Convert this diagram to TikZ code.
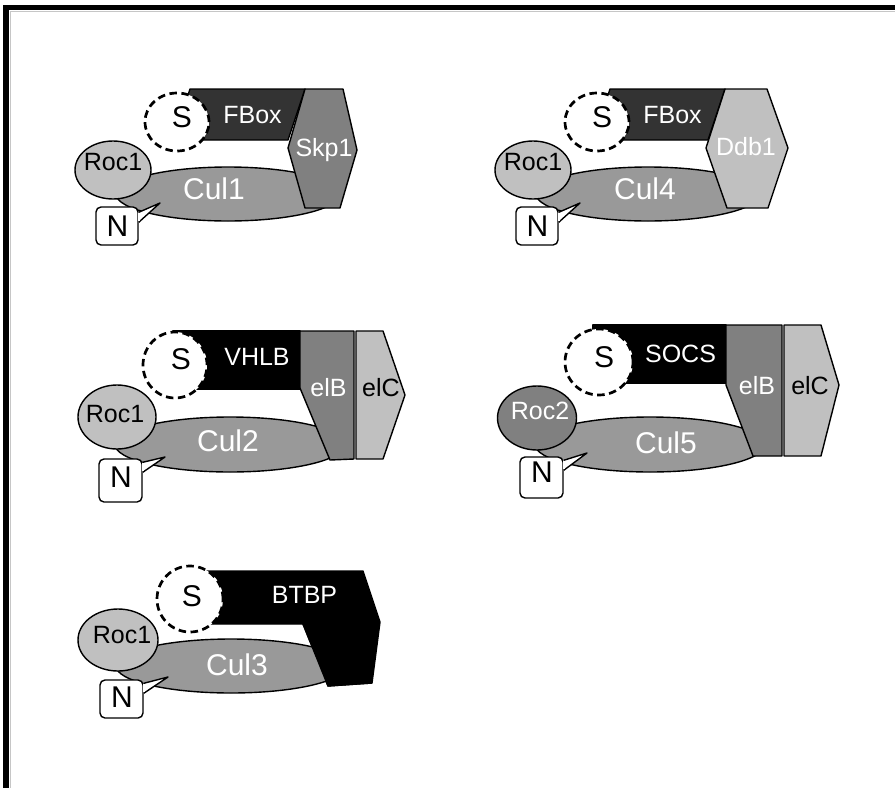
\documentclass[tikz,border=0pt]{standalone}
\usepackage{fontspec}
\setmainfont{Liberation Sans}
\usetikzlibrary{shapes.geometric}
\definecolor{gDark}{HTML}{333333}
\definecolor{gMid}{HTML}{808080}
\definecolor{gCul}{HTML}{999999}
\definecolor{gLight}{HTML}{C0C0C0}
\begin{document}
\begin{tikzpicture}[x=1pt,y=-1pt,
  big/.style={font=\fontsize{30}{32}\selectfont},
  med/.style={font=\fontsize{25}{27}\selectfont},
  txt/.style={inner sep=0pt, text height=0.716em, text depth=0pt},
  wtxt/.style={txt, text=white},
  outl/.style={draw=black, line width=1.4pt, line join=round},
  sub/.style={ellipse, draw=black, line width=2.7pt, dash pattern=on 7.5pt off 4.5pt, fill=white, inner sep=0pt},
  roc/.style={ellipse, outl, fill=gLight, inner sep=0pt},
  cul/.style={ellipse, outl, fill=gCul, inner sep=0pt},
  nbox/.style={rectangle, rounded corners=5pt, outl, fill=white, inner sep=0pt},
  ptr/.style={outl, fill=white},
  cover/.style={draw=white, line width=2.2pt}
]
\useasboundingbox (0,0) rectangle (895,788);
% frame
\draw[gray!45, line width=1pt] (10,11) -- (895,11);
\draw[gray!45, line width=1pt] (10,11) -- (10,788);
\draw[black, line width=5pt] (3,7.5) -- (895,7.5);
\draw[black, line width=6pt] (6,5) -- (6,788);

% ---------- complex 1 : Cul1 ----------
\draw[outl, fill=gDark] (190,89) -- (305,89) -- (288,140) -- (173,140) -- cycle;
\node[sub, minimum width=64pt, minimum height=58pt] (s1) at (177,122) {};
\node[cul, minimum width=224pt, minimum height=54pt] (cul1) at (228,194) {};
\draw[outl, fill=gMid] (305,89) -- (343,89) -- (357,150) -- (340,208) -- (305,208) -- (288,148) -- cycle;
\node[roc, minimum width=76pt, minimum height=58pt] (roc1a) at (113,170) {};
\node[nbox, minimum width=42pt, minimum height=38pt] (n1) at (117,226) {};
\coordinate (t1) at (160,203);
\filldraw[ptr] ([yshift=-6pt]n1.north east) -- (t1) -- ([yshift=-16pt]n1.north east);
\draw[cover] ([yshift=-7pt]n1.north east) -- ([yshift=-15pt]n1.north east);
\node[txt, big] (s1t) at (182,124) {S};
\node[wtxt, med] (fbox1) at (252.5,119.5) {FBox};
\node[wtxt, med] (skp1) at (324,152.5) {Skp1};
\node[txt, med] (roc1at) at (113,166.5) {Roc1};
\node[wtxt, big] (cul1t) at (214,196) {Cul1};
\node[txt, big] (n1t) at (117.5,232.5) {N};

% ---------- complex 2 : Cul4 ----------
\draw[outl, fill=gDark] (610,89) -- (725,89) -- (708,140) -- (593,140) -- cycle;
\node[sub, minimum width=64pt, minimum height=58pt] (s2) at (597,122) {};
\node[cul, minimum width=224pt, minimum height=54pt] (cul4) at (648,194) {};
\draw[outl, fill=gLight] (725,89) -- (767,89) -- (788,148) -- (768,208) -- (727,208) -- (706,148) -- cycle;
\node[roc, minimum width=76pt, minimum height=58pt] (roc1b) at (533,170) {};
\node[nbox, minimum width=42pt, minimum height=38pt] (n2) at (537,226) {};
\coordinate (t2) at (580,203);
\filldraw[ptr] ([yshift=-6pt]n2.north east) -- (t2) -- ([yshift=-16pt]n2.north east);
\draw[cover] ([yshift=-7pt]n2.north east) -- ([yshift=-15pt]n2.north east);
\node[txt, big] (s2t) at (602,124) {S};
\node[wtxt, med] (fbox2) at (672.5,119.5) {FBox};
\node[wtxt, med] (ddb1) at (746,151.5) {Ddb1};
\node[txt, med] (roc1bt) at (533,166.5) {Roc1};
\node[wtxt, big] (cul4t) at (645,196) {Cul4};
\node[txt, big] (n2t) at (537.5,232.5) {N};

% ---------- complex 3 : Cul2 ----------
\draw[outl, fill=black] (173,331) -- (300,331) -- (300,389) -- (173,389) -- cycle;
\node[sub, minimum width=64pt, minimum height=66pt] (s3) at (175,365) {};
\node[cul, minimum width=230pt, minimum height=55pt] (cul2) at (230,444.5) {};
\draw[outl, fill=gMid] (300,331) -- (354,331) -- (354,459) -- (330,460) -- (300,388) -- cycle;
\draw[outl, fill=gLight] (356,331) -- (383,331) -- (405,395) -- (383,459) -- (356,459) -- cycle;
\node[roc, minimum width=78pt, minimum height=64pt] (roc1c) at (117,417) {};
\node[nbox, minimum width=43pt, minimum height=43pt] (n3) at (120.5,480.5) {};
\coordinate (t3) at (165,457);
\filldraw[ptr] ([yshift=-4pt]n3.north east) -- (t3) -- ([yshift=-14pt]n3.north east);
\draw[cover] ([yshift=-5pt]n3.north east) -- ([yshift=-13pt]n3.north east);
\node[txt, big] (s3t) at (181,366) {S};
\node[wtxt, med] (vhlb) at (257,361.5) {VHLB};
\node[wtxt, med] (elb3) at (328.5,393) {elB};
\node[txt, med] (elc3) at (381,393) {elC};
\node[txt, med] (roc1ct) at (115,419) {Roc1};
\node[wtxt, big] (cul2t) at (228,448) {Cul2};
\node[txt, big] (n3t) at (121,484) {N};

% ---------- complex 4 : Cul5 ----------
\draw[outl, fill=black] (593,325) -- (726,325) -- (726,383) -- (593,383) -- cycle;
\node[sub, minimum width=68pt, minimum height=66pt] (s4) at (599,362) {};
\node[cul, minimum width=230pt, minimum height=55pt] (cul5) at (650,444.5) {};
\draw[outl, fill=gMid] (726,325) -- (782,325) -- (782,456) -- (753,456) -- (726,385) -- cycle;
\draw[outl, fill=gLight] (784,325) -- (821,325) -- (839,385) -- (821,456) -- (784,456) -- cycle;
\node[roc, fill=gMid, minimum width=79pt, minimum height=64pt] (roc2) at (537,418) {};
\node[nbox, minimum width=43pt, minimum height=41pt] (n4) at (541.5,477.5) {};
\coordinate (t4) at (587,453);
\filldraw[ptr] ([yshift=-4pt]n4.north east) -- (t4) -- ([yshift=-14pt]n4.north east);
\draw[cover] ([yshift=-5pt]n4.north east) -- ([yshift=-13pt]n4.north east);
\node[txt, big] (s4t) at (604,364) {S};
\node[wtxt, med] (socs) at (680.5,359) {SOCS};
\node[wtxt, med] (elb4) at (757,391) {elB};
\node[txt, med] (elc4) at (810,391) {elC};
\node[wtxt, med] (roc2t) at (540,416) {Roc2};
\node[wtxt, big] (cul5t) at (666,450) {Cul5};
\node[txt, big] (n4t) at (542,479) {N};

% ---------- complex 5 : Cul3 ----------
\draw[outl, fill=black] (200,571) -- (363,571) -- (380,622) -- (372,683) -- (328,686) -- (303,624) -- (200,624) -- cycle;
\node[sub, minimum width=66pt, minimum height=66pt] (s5) at (190,599) {};
\node[cul, minimum width=230pt, minimum height=54pt] (cul3) at (231,666) {};
\fill[black] (328,686) -- (303,624) -- (372,624) -- (372,683) -- cycle;
\draw[outl] (303,624) -- (328,686) -- (372,683);
\node[roc, minimum width=80pt, minimum height=62pt] (roc1d) at (118,640) {};
\node[nbox, minimum width=43pt, minimum height=38pt] (n5) at (121.5,699) {};
\coordinate (t5) at (168,677);
\filldraw[ptr] ([yshift=-4pt]n5.north east) -- (t5) -- ([yshift=-14pt]n5.north east);
\draw[cover] ([yshift=-5pt]n5.north east) -- ([yshift=-13pt]n5.north east);
\node[txt, big] (s5t) at (192,602.5) {S};
\node[wtxt, med] (btbp) at (304.5,600) {BTBP};
\node[txt, med] (roc1dt) at (122,640) {Roc1};
\node[wtxt, big] (cul3t) at (237,672) {Cul3};
\node[txt, big] (n5t) at (122,704) {N};
\end{tikzpicture}
\end{document}
